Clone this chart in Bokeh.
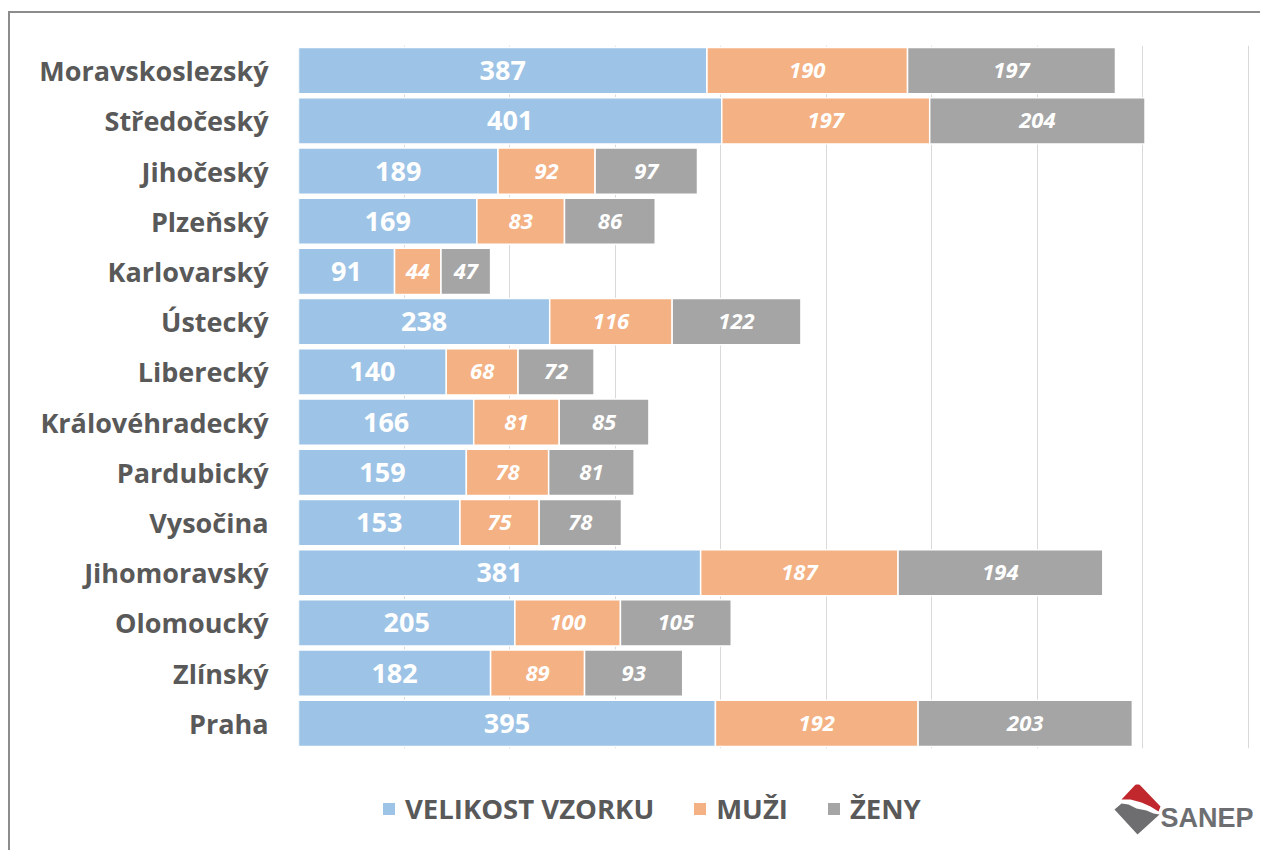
from bokeh.plotting import figure
from bokeh.layouts import column
from bokeh.models import (ColumnDataSource, FactorRange, Range1d, SingleIntervalTicker,
                          Legend, LegendItem)
from bokeh.core.properties import value
from bokeh.embed import file_html
from bokeh.resources import INLINE

regions = ["Moravskoslezský", "Středočeský", "Jihočeský", "Plzeňský", "Karlovarský",
           "Ústecký", "Liberecký", "Královéhradecký", "Pardubický", "Vysočina",
           "Jihomoravský", "Olomoucký", "Zlínský", "Praha"]
vzorek = [387, 401, 189, 169, 91, 238, 140, 166, 159, 153, 381, 205, 182, 395]
muzi = [190, 197, 92, 83, 44, 116, 68, 81, 78, 75, 187, 100, 89, 192]
zeny = [197, 204, 97, 86, 47, 122, 72, 85, 81, 78, 194, 105, 93, 203]
series_names = ["VELIKOST VZORKU", "MUŽI", "ŽENY"]
colors = ["#9DC3E6", "#F4B183", "#A5A5A5"]

FONT = "Open Sans"
TXT = "#595959"

src = ColumnDataSource(dict(
    region=regions, vzorek=vzorek, muzi=muzi, zeny=zeny,
    c_v=[v / 2 for v in vzorek],
    c_m=[v + m / 2 for v, m in zip(vzorek, muzi)],
    c_z=[v + m + z / 2 for v, m, z in zip(vzorek, muzi, zeny)],
    t_v=[str(v) for v in vzorek],
    t_m=[str(m) for m in muzi],
    t_z=[str(z) for z in zeny],
))

# ---------------- main chart ----------------
# frame spans page x 298..1258; the 0..900 scale ends at x=1248
p = figure(width=1250, height=771, output_backend="svg", toolbar_location=None,
           y_range=FactorRange(*regions[::-1], range_padding=0),
           x_range=Range1d(0, 909.5),
           min_border_left=288, min_border_right=2, min_border_top=32, min_border_bottom=36)
p.outline_line_color = None

rs = p.hbar_stack(["vzorek", "muzi", "zeny"], y="region", height=0.92, color=colors,
                  line_color="white", line_width=1.5, source=src)

p.text(x="c_v", y="region", text="t_v", source=src, text_align="center",
       text_baseline="middle", text_color="white", text_font=value(FONT),
       text_font_size="27px", text_font_style="bold")
p.text(x="c_m", y="region", text="t_m", source=src, text_align="center",
       text_baseline="middle", text_color="white", text_font=value(FONT),
       text_font_size="22px", text_font_style="bold italic")
p.text(x="c_z", y="region", text="t_z", source=src, text_align="center",
       text_baseline="middle", text_color="white", text_font=value(FONT),
       text_font_size="22px", text_font_style="bold italic")

p.xaxis.visible = False
p.xgrid.ticker = SingleIntervalTicker(interval=100)
p.xgrid.bounds = (0, 900)
p.xgrid.grid_line_color = "#D9D9D9"
p.ygrid.grid_line_color = None

ya = p.yaxis[0]
ya.axis_line_color = None
ya.major_tick_line_color = None
ya.minor_tick_line_color = None
ya.major_label_standoff = 24
ya.major_label_text_font = FONT
ya.major_label_text_font_size = "27px"
ya.major_label_text_font_style = "bold"
ya.major_label_text_color = TXT

# ---------------- legend + logo strip (x in page px, y = 850 - page y) ----------------
q = figure(width=1250, height=66, output_backend="svg", toolbar_location=None,
           x_range=Range1d(298, 1258), y_range=Range1d(0, 66),
           x_axis_type=None, y_axis_type=None,
           min_border_left=288, min_border_right=2, min_border_top=0, min_border_bottom=0)
q.outline_line_color = None
q.grid.visible = False

# legend swatch renderers (single point placed outside the visible strip)
keys = [q.hbar(y=[-500], left=[0], right=[1], height=1, fill_color=c, line_color=None)
        for c in colors]
legend = Legend(items=[LegendItem(label=n, renderers=[r]) for n, r in zip(series_names, keys)],
                orientation="horizontal", location=(83, 23),
                glyph_width=15, glyph_height=15, label_standoff=9, spacing=38,
                padding=0, margin=0, border_line_color=None, background_fill_alpha=0,
                label_text_font=FONT, label_text_font_size="27.5px",
                label_text_font_style="bold", label_text_color=TXT)
q.add_layout(legend, "center")

# SANEP logo
red_x = [1137, 1160, 1158, 1150, 1141, 1130, 1121]
red_y = [782, 806, 811, 806, 802, 799, 799]
gray_x = [1114, 1121, 1128, 1136, 1146, 1153, 1159, 1137]
gray_y = [809, 803, 804, 808, 810, 813, 814, 834]
q.patch(red_x, [850 - y for y in red_y], fill_color="#C0282E", line_color=None)
q.patch(gray_x, [850 - y for y in gray_y], fill_color="#6E6E70", line_color=None)
q.text(x=[1160], y=[33], text=["SANEP"], text_font=value("Liberation Sans"),
       text_font_size="27px", text_font_style="bold", text_color="#6D6E71",
       text_baseline="alphabetic")

layout = column(p, q, margin=(11, 0, 0, 8),
                styles={"border-left": "2px solid #8C8C8C", "border-top": "2px solid #8C8C8C"})

open("out.html", "w").write(file_html(layout, INLINE))
